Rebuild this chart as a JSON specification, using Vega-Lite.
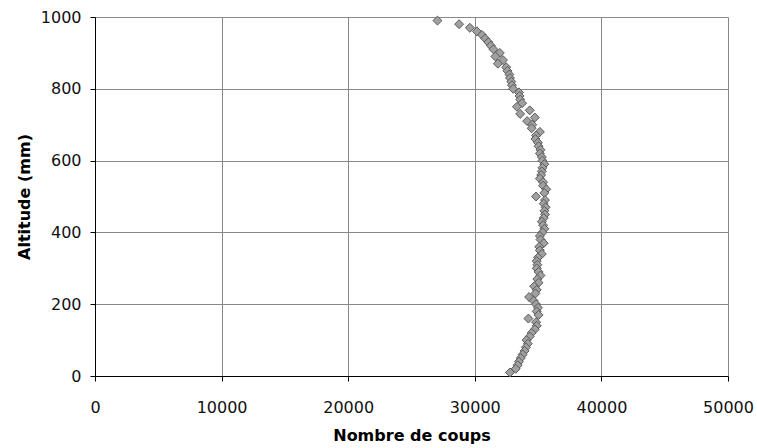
{
  "$schema": "https://vega.github.io/schema/vega-lite/v6.json",
  "width": 633,
  "height": 359,
  "autosize": {"type": "none"},
  "padding": {"left": 95, "top": 17, "right": 29, "bottom": 72},
  "background": "white",
  "config": {"view": {"stroke": null}},
  "data": {"values": [
    {"coups": 27050, "alt": 990}, {"coups": 28760, "alt": 980}, {"coups": 29610, "alt": 970}, {"coups": 30165, "alt": 960}, {"coups": 30570, "alt": 950},
    {"coups": 30820, "alt": 940}, {"coups": 31070, "alt": 930}, {"coups": 31270, "alt": 920}, {"coups": 31470, "alt": 910}, {"coups": 31975, "alt": 900},
    {"coups": 31625, "alt": 890}, {"coups": 32225, "alt": 880}, {"coups": 31825, "alt": 870}, {"coups": 32480, "alt": 860}, {"coups": 32580, "alt": 850},
    {"coups": 32730, "alt": 840}, {"coups": 32780, "alt": 830}, {"coups": 32880, "alt": 820}, {"coups": 32930, "alt": 810}, {"coups": 33030, "alt": 800},
    {"coups": 33485, "alt": 790}, {"coups": 33535, "alt": 780}, {"coups": 33585, "alt": 770}, {"coups": 33735, "alt": 760}, {"coups": 33330, "alt": 750},
    {"coups": 34340, "alt": 740}, {"coups": 33585, "alt": 730}, {"coups": 34740, "alt": 720}, {"coups": 34135, "alt": 710}, {"coups": 34540, "alt": 700},
    {"coups": 34490, "alt": 690}, {"coups": 35140, "alt": 680}, {"coups": 34840, "alt": 670}, {"coups": 34790, "alt": 660}, {"coups": 34990, "alt": 650},
    {"coups": 35040, "alt": 640}, {"coups": 35190, "alt": 630}, {"coups": 35140, "alt": 620}, {"coups": 35295, "alt": 610}, {"coups": 35345, "alt": 600},
    {"coups": 35495, "alt": 590}, {"coups": 35345, "alt": 580}, {"coups": 35295, "alt": 570}, {"coups": 35245, "alt": 560}, {"coups": 35140, "alt": 550},
    {"coups": 35395, "alt": 540}, {"coups": 35395, "alt": 530}, {"coups": 35645, "alt": 520}, {"coups": 35495, "alt": 510}, {"coups": 34840, "alt": 500},
    {"coups": 35545, "alt": 490}, {"coups": 35445, "alt": 480}, {"coups": 35595, "alt": 470}, {"coups": 35495, "alt": 460}, {"coups": 35545, "alt": 450},
    {"coups": 35445, "alt": 440}, {"coups": 35295, "alt": 430}, {"coups": 35395, "alt": 420}, {"coups": 35495, "alt": 410}, {"coups": 35345, "alt": 400},
    {"coups": 35140, "alt": 390}, {"coups": 35190, "alt": 380}, {"coups": 35445, "alt": 370}, {"coups": 35090, "alt": 360}, {"coups": 35140, "alt": 350},
    {"coups": 35295, "alt": 340}, {"coups": 34990, "alt": 330}, {"coups": 34890, "alt": 320}, {"coups": 34940, "alt": 310}, {"coups": 34890, "alt": 300},
    {"coups": 35040, "alt": 290}, {"coups": 35190, "alt": 280}, {"coups": 34940, "alt": 270}, {"coups": 35040, "alt": 260}, {"coups": 34690, "alt": 250},
    {"coups": 34890, "alt": 240}, {"coups": 34790, "alt": 230}, {"coups": 34290, "alt": 220}, {"coups": 34640, "alt": 210}, {"coups": 34840, "alt": 200},
    {"coups": 34990, "alt": 190}, {"coups": 34890, "alt": 180}, {"coups": 35040, "alt": 170}, {"coups": 34235, "alt": 160}, {"coups": 34840, "alt": 150},
    {"coups": 34890, "alt": 140}, {"coups": 34740, "alt": 130}, {"coups": 34490, "alt": 120}, {"coups": 34340, "alt": 110}, {"coups": 34085, "alt": 100},
    {"coups": 34185, "alt": 90}, {"coups": 34035, "alt": 80}, {"coups": 33935, "alt": 70}, {"coups": 33785, "alt": 60}, {"coups": 33635, "alt": 50},
    {"coups": 33485, "alt": 40}, {"coups": 33385, "alt": 30}, {"coups": 33230, "alt": 20}, {"coups": 32780, "alt": 10}
  ]},
  "mark": {"type": "point", "shape": "diamond", "filled": true, "size": 80, "fill": "#A0A0A0", "stroke": "#5A5A5A", "strokeWidth": 1, "opacity": 1},
  "encoding": {
    "x": {
      "field": "coups", "type": "quantitative",
      "scale": {"domain": [0, 50000], "nice": false, "zero": true},
      "axis": {
        "title": "Nombre de coups", "values": [0, 10000, 20000, 30000, 40000, 50000],
        "format": "d", "grid": true, "gridColor": "#888888", "gridWidth": 1,
        "domainColor": "#000000", "domainWidth": 1, "tickColor": "#000000", "tickSize": 5,
        "labelFont": "DejaVu Sans", "labelFontSize": 16, "labelColor": "#111111", "labelPadding": 18,
        "labelFlush": false, "labelOverlap": false,
        "titleFont": "DejaVu Sans", "titleFontSize": 16, "titleFontWeight": "bold", "titleColor": "#000000", "titlePadding": 12
      }
    },
    "y": {
      "field": "alt", "type": "quantitative",
      "scale": {"domain": [0, 1000], "nice": false},
      "axis": {
        "title": "Altitude (mm)", "values": [0, 200, 400, 600, 800, 1000],
        "format": "d", "grid": true, "gridColor": "#888888", "gridWidth": 1,
        "domainColor": "#000000", "domainWidth": 1, "tickColor": "#000000", "tickSize": 5,
        "labelFont": "DejaVu Sans", "labelFontSize": 16, "labelColor": "#111111", "labelPadding": 9,
        "labelFlush": false, "labelOverlap": false,
        "titleFont": "DejaVu Sans", "titleFontSize": 16, "titleFontWeight": "bold", "titleColor": "#000000", "titlePadding": 8
      }
    }
  }
}
